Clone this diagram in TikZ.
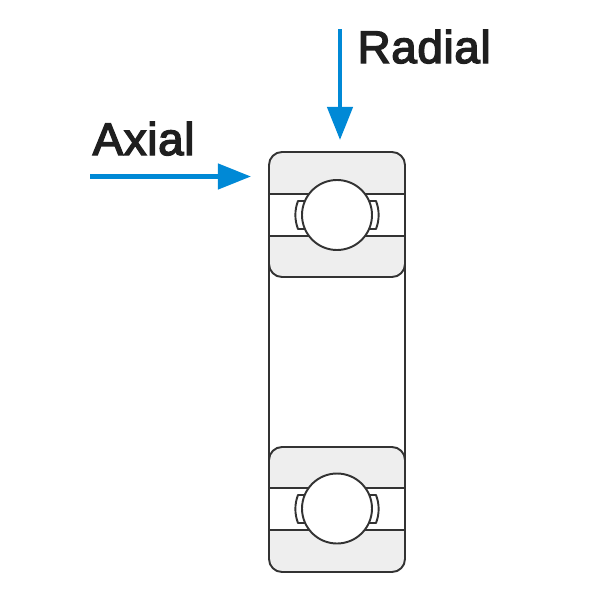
\documentclass[tikz,border=0pt]{standalone}
\usepackage{fontspec}
\setsansfont{Liberation Sans}[FakeBold=3.2,LetterSpace=1.5]
\usepackage{tikz}
\usetikzlibrary{arrows.meta}
\definecolor{forceblue}{HTML}{0089D6}
\definecolor{ringgray}{HTML}{EEEEEE}
\definecolor{linedark}{HTML}{333333}
\tikzset{
    ring/.style={draw=linedark,fill=ringgray,line width=0.55pt,rounded corners=0.13cm},
    part/.style={draw=linedark,line width=0.55pt},
    ball/.style={draw=linedark,fill=white,line width=0.55pt},
    force/.style={draw=forceblue,line width=1.25pt,-{Triangle[length=0.33cm,width=0.25cm,fill=forceblue]}},
    forcelabel/.style={font=\sffamily\fontsize{13pt}{15pt}\selectfont,text=black!88,inner sep=0pt,anchor=base west}
}

\begin{document}
\begin{tikzpicture}[x=0.01cm,y=-0.01cm]
        \useasboundingbox (0,0) rectangle (600,600);
        % Upper row
        \filldraw[ring] (269,194) -- (269,152) -- (405,152) -- (405,194);
        \filldraw[ring] (269,236) -- (269,277) -- (405,277) -- (405,236);
        \draw[part] (269,194) -- (405,194);
        \draw[part] (269,236) -- (405,236);
        \draw[part] (269,194) -- (269,236);
        \draw[part] (405,194) -- (405,236);
        \draw[part,line join=round] (306,201) -- (298,201) .. controls (294.5,210) and (294.5,220) .. (298,229) -- (306,229);
        \draw[part,line join=round] (368,201) -- (376,201) .. controls (379.5,210) and (379.5,220) .. (376,229) -- (368,229);
        \filldraw[ball] (337,215) circle (35);
        % Lower row
        \filldraw[ring] (269,488) -- (269,447) -- (405,447) -- (405,488);
        \filldraw[ring] (269,530) -- (269,572) -- (405,572) -- (405,530);
        \draw[part] (269,488) -- (405,488);
        \draw[part] (269,530) -- (405,530);
        \draw[part] (269,488) -- (269,530);
        \draw[part] (405,488) -- (405,530);
        \draw[part,line join=round] (306,495) -- (298,495) .. controls (294.5,504) and (294.5,514) .. (298,523) -- (306,523);
        \draw[part,line join=round] (368,495) -- (376,495) .. controls (379.5,504) and (379.5,514) .. (376,523) -- (368,523);
        \filldraw[ball] (337,508.5) circle (35);
        % Sides
        \draw[part] (269,264) -- (269,460);
        \draw[part] (405,264) -- (405,460);
        % Forces
        \coordinate (radialstart) at (340,29);
        \coordinate (radialtip) at (340,140);
        \coordinate (axialstart) at (90,176.5);
        \coordinate (axialtip) at (251,176.5);
        \draw[force] (radialstart) -- (radialtip);
        \draw[force] (axialstart) -- (axialtip);
        \node[forcelabel] (radial) at (357,63) {Radial};
        \node[forcelabel] (axial) at (92,155) {Axial};
\end{tikzpicture}
\end{document}
